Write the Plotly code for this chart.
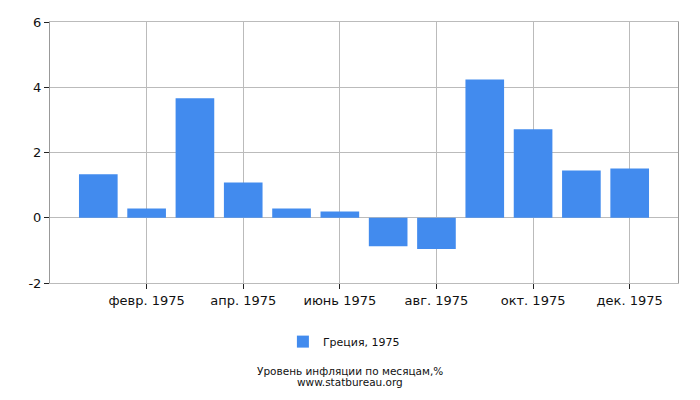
import plotly.graph_objects as go

months = ["янв. 1975", "февр. 1975", "март 1975", "апр. 1975", "май 1975", "июнь 1975",
          "июль 1975", "авг. 1975", "сент. 1975", "окт. 1975", "нояб. 1975", "дек. 1975"]
values = [1.33, 0.28, 3.66, 1.08, 0.28, 0.19, -0.87, -0.96, 4.24, 2.71, 1.45, 1.51]
shown_ticks = ["февр. 1975", "апр. 1975", "июнь 1975", "авг. 1975", "окт. 1975", "дек. 1975"]
y_ticks = [-2, 0, 2, 4, 6]
y_labels = ["-2", "0", "2", "4", "6"]

fig = go.Figure()
fig.add_trace(go.Bar(x=months, y=values, name="Греция, 1975",
                     marker=dict(color="#428bee", line=dict(width=0)), width=0.8))

# page body has an 8px margin, so the figure is a bit smaller than the window
fig.update_layout(
    width=692, height=392,
    margin=dict(l=42, r=22, t=14, b=117, autoexpand=False),
    plot_bgcolor="white", paper_bgcolor="white",
    font=dict(family="DejaVu Sans", size=13, color="#111"),
    showlegend=True,
    legend=dict(orientation="h", x=0.468, xanchor="center", y=-0.169, yanchor="top",
                font=dict(size=11)),
    bargap=0.2,
)
fig.update_xaxes(type="category", range=[-1, 12], tickvals=shown_ticks, ticktext=shown_ticks,
                 automargin=False, showgrid=True, gridcolor="#bbbbbb", ticks="outside",
                 ticklen=5, tickcolor="#222", showline=True, linecolor="#bbbbbb", mirror=True)
fig.update_yaxes(range=[-2, 6], tickvals=y_ticks, ticktext=y_labels, automargin=False,
                 showgrid=True, gridcolor="#bbbbbb",
                 zeroline=True, zerolinecolor="#bbbbbb", zerolinewidth=1,
                 ticks="outside", ticklen=5, tickcolor="#222",
                 showline=True, linecolor="#999999", mirror=True)

fig.add_annotation(text="Уровень инфляции по месяцам,%", xref="paper", yref="paper",
                   x=0.478, y=-0.337, yanchor="middle", showarrow=False, font=dict(size=10.5))
fig.add_annotation(text="www.statbureau.org", xref="paper", yref="paper",
                   x=0.478, y=-0.381, yanchor="middle", showarrow=False, font=dict(size=10.5))

fig.write_html("out.html")
